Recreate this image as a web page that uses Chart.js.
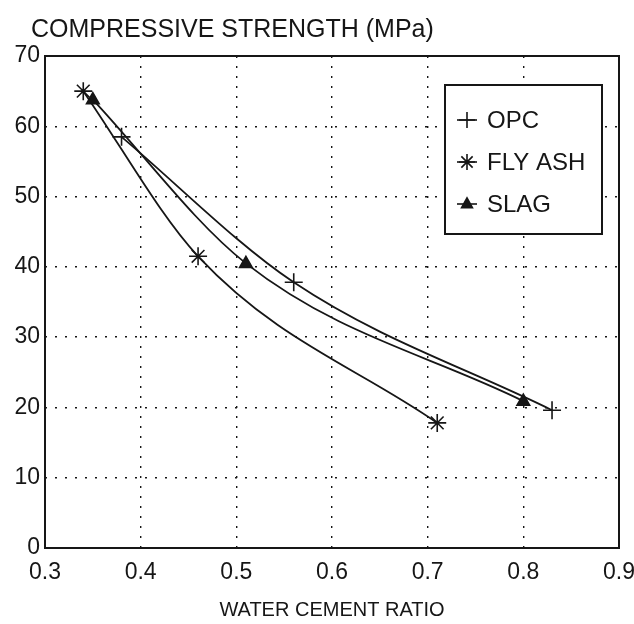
<!DOCTYPE html>
<html>
<head>
<meta charset="utf-8">
<script src="https://cdn.jsdelivr.net/npm/chart.js@4.4.0/dist/chart.umd.min.js"></script>
<style>
  body { margin: 0; background: #fff; }
  #wrap { width: 634px; height: 624px; }
</style>
</head>
<body>
<div id="wrap"><canvas id="grafico" width="634" height="624"></canvas></div>
<script>
// valores
const seriesNames = ['OPC', 'FLY ASH', 'SLAG'];
const opcX = [0.38, 0.56, 0.83];
const opcY = [58.5, 37.8, 19.6];
const flyAshX = [0.34, 0.46, 0.71];
const flyAshY = [65.0, 41.5, 17.8];
const slagX = [0.35, 0.51, 0.80];
const slagY = [63.8, 40.5, 20.9];
const xTicks = [0.3, 0.4, 0.5, 0.6, 0.7, 0.8, 0.9];
const yTicks = [0, 10, 20, 30, 40, 50, 60, 70];
const titulo = 'COMPRESSIVE STRENGTH (MPa)';
const tituloX = 'WATER CEMENT RATIO';

const FONT = 'Liberation Sans, Arial, sans-serif';
const INK = '#161616';

function pares(xs, ys) {
  return xs.map((x, i) => ({ x: x, y: ys[i] }));
}

function marcador(ctx, estilo, x, y, r) {
  ctx.beginPath();
  if (estilo === 'cross') {
    ctx.moveTo(x - r, y); ctx.lineTo(x + r, y);
    ctx.moveTo(x, y - r); ctx.lineTo(x, y + r);
    ctx.stroke();
  } else if (estilo === 'star') {
    for (let k = 0; k < 4; k++) {
      const a = k * Math.PI / 4;
      ctx.moveTo(x - r * Math.cos(a), y - r * Math.sin(a));
      ctx.lineTo(x + r * Math.cos(a), y + r * Math.sin(a));
    }
    ctx.stroke();
  } else {
    ctx.moveTo(x, y - r);
    ctx.lineTo(x + r * 0.9, y + r * 0.6);
    ctx.lineTo(x - r * 0.9, y + r * 0.6);
    ctx.closePath();
    ctx.fill();
    ctx.stroke();
  }
}

// titulo, moldura em volta da area do grafico + legenda com caixa
const moldura = {
  id: 'moldura',
  afterDraw(chart) {
    const ctx = chart.ctx;
    const a = chart.chartArea;
    ctx.save();
    ctx.fillStyle = INK;
    ctx.font = '25px ' + FONT;
    ctx.textBaseline = 'middle';
    ctx.fillText(titulo, 31, 30);

    ctx.strokeStyle = INK;
    ctx.lineWidth = 2;
    ctx.strokeRect(a.left, a.top, a.right - a.left, a.bottom - a.top);

    // legenda
    const bx = 445, by = 85, bw = 157, bh = 149;
    ctx.fillStyle = '#fff';
    ctx.fillRect(bx, by, bw, bh);
    ctx.lineWidth = 2;
    ctx.strokeRect(bx, by, bw, bh);
    ctx.font = '24px ' + FONT;
    chart.data.datasets.forEach((ds, i) => {
      const yy = by + 35 + i * 42;
      ctx.strokeStyle = INK;
      ctx.fillStyle = INK;
      ctx.lineWidth = 1.6;
      ctx.beginPath();
      ctx.moveTo(bx + 12, yy); ctx.lineTo(bx + 32, yy);
      ctx.stroke();
      marcador(ctx, ds.pointStyle, bx + 22, yy, ds.pointStyle === 'triangle' ? 6 : 8);
      ctx.fillText(ds.label, bx + 42, yy + 1);
    });
    ctx.restore();
  }
};

// desenha os marcadores por cima das linhas
const marcadores = {
  id: 'marcadores',
  afterDatasetsDraw(chart) {
    const ctx = chart.ctx;
    ctx.save();
    ctx.strokeStyle = INK;
    ctx.fillStyle = INK;
    ctx.lineWidth = 1.6;
    chart.data.datasets.forEach((ds, i) => {
      chart.getDatasetMeta(i).data.forEach(p => {
        marcador(ctx, ds.pointStyle, p.x, p.y, ds.pointStyle === 'triangle' ? 7 : 9);
      });
    });
    ctx.restore();
  }
};

const linha = {
  borderColor: INK,
  borderWidth: 1.8,
  backgroundColor: INK,
  fill: false,
  cubicInterpolationMode: 'monotone',
  pointRadius: 0
};

const grade = {
  drawTicks: false,
  color: c => (c.index === 0 || c.index === c.scale.ticks.length - 1) ? 'rgba(0,0,0,0)' : INK,
  lineWidth: 1.4
};

const grafico = new Chart(document.getElementById('grafico').getContext('2d'), {
  type: 'line',
  data: {
    datasets: [
      Object.assign({ label: seriesNames[0], data: pares(opcX, opcY), pointStyle: 'cross' }, linha),
      Object.assign({ label: seriesNames[1], data: pares(flyAshX, flyAshY), pointStyle: 'star' }, linha),
      Object.assign({ label: seriesNames[2], data: pares(slagX, slagY), pointStyle: 'triangle' }, linha)
    ]
  },
  plugins: [marcadores, moldura],
  options: {
    responsive: false,
    animation: false,
    devicePixelRatio: 1,
    layout: { padding: { left: 0, right: 0, top: 56, bottom: 2 } },
    plugins: {
      legend: { display: false },
      tooltip: { enabled: false },
      title: { display: false }
    },
    scales: {
      x: {
        type: 'linear',
        min: xTicks[0],
        max: xTicks[xTicks.length - 1],
        afterBuildTicks: s => { s.ticks = xTicks.map(v => ({ value: v })); },
        afterFit: s => { s.height = 74; s.paddingRight = 15; s.paddingLeft = 0; },
        border: { display: false, dash: [2, 8] },
        grid: grade,
        ticks: {
          color: INK,
          padding: 11,
          maxRotation: 0,
          font: { family: FONT, size: 23 },
          callback: v => v.toFixed(1)
        },
        title: {
          display: true,
          text: tituloX,
          color: INK,
          font: { family: FONT, size: 20 },
          padding: { top: 13, bottom: 0 }
        }
      },
      y: {
        min: yTicks[0],
        max: yTicks[yTicks.length - 1],
        afterBuildTicks: s => { s.ticks = yTicks.map(v => ({ value: v })); },
        afterFit: s => { s.width = 45; },
        border: { display: false, dash: [2, 8] },
        grid: grade,
        ticks: {
          color: INK,
          padding: 5,
          font: { family: FONT, size: 23 }
        }
      }
    }
  }
});
</script>
</body>
</html>
